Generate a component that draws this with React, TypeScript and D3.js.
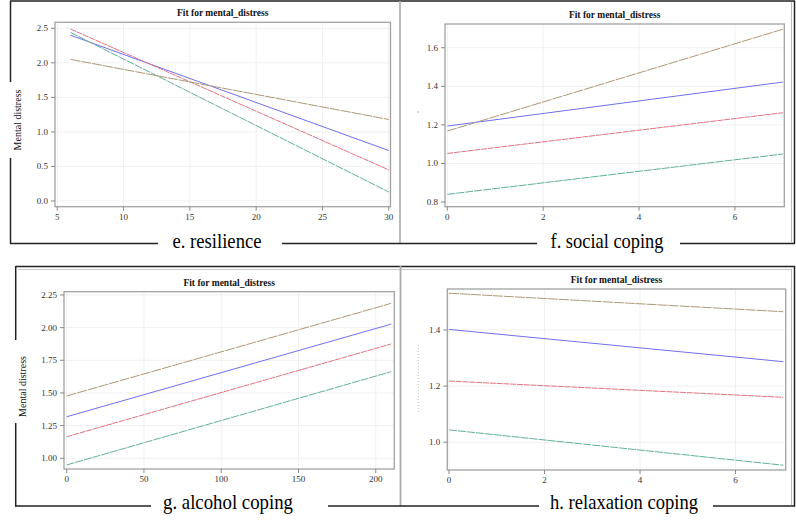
import * as d3 from 'd3';

// colours of the four fitted lines (same order in every panel)
const seriesColors = ['#7070f0', '#e07480', '#62b09e', '#ae9878'];
const seriesDash = ['', '6 0.8', '8 1', '10 1'];

// e. resilience
const resilienceX = [6, 30];
const resilienceFits = [[2.40, 0.73], [2.49, 0.45], [2.44, 0.13], [2.05, 1.18]];
const resilienceXTicks = [5, 10, 15, 20, 25, 30];
const resilienceYTicks = [0, 0.5, 1.0, 1.5, 2.0, 2.5];

// f. social coping
const socialX = [0, 7];
const socialFits = [[1.194, 1.422], [1.052, 1.263], [0.84, 1.049], [1.168, 1.696]];
const socialXTicks = [0, 2, 4, 6];
const socialYTicks = [0.8, 1.0, 1.2, 1.4, 1.6];

// g. alcohol coping
const alcoholX = [0, 210];
const alcoholFits = [[1.318, 2.027], [1.165, 1.875], [0.949, 1.663], [1.477, 2.186]];
const alcoholXTicks = [0, 50, 100, 150, 200];
const alcoholYTicks = [1.0, 1.25, 1.5, 1.75, 2.0, 2.25];

// h. relaxation coping
const relaxX = [0, 7];
const relaxFits = [[1.402, 1.287], [1.218, 1.16], [1.044, 0.918], [1.531, 1.465]];
const relaxXTicks = [0, 2, 4, 6];
const relaxYTicks = [1.0, 1.2, 1.4];

const serif = "'Liberation Serif', 'Times New Roman', Times, 'DejaVu Serif', serif";

interface PanelProps {
  frame: { x0: number; x1: number; y0: number; y1: number };
  xDomain: [number, number];
  yDomain: [number, number];
  xTicks: number[];
  yTicks: number[];
  yFmt: string;
  xs: number[];
  fits: number[][];
}

function Panel({ frame, xDomain, yDomain, xTicks, yTicks, yFmt, xs, fits }: PanelProps) {
  const x = d3.scaleLinear().domain(xDomain).range([frame.x0, frame.x1]);
  const y = d3.scaleLinear().domain(yDomain).range([frame.y1, frame.y0]);
  const fy = d3.format(yFmt);
  const fx = d3.format('d');
  const line = d3.line<[number, number]>().x(d => x(d[0])).y(d => y(d[1]));

  return (
    <g>
      <text x={(frame.x0 + frame.x1) / 2} y={frame.y0 - 6} textAnchor="middle"
        fontWeight="bold" fontSize={9.5} fill="#111">Fit for mental_distress</text>
      {/* grid */}
      {xTicks.map(t => (
        <line key={'gx' + t} x1={x(t)} x2={x(t)} y1={frame.y0} y2={frame.y1} stroke="#f0f0f0" />
      ))}
      {yTicks.map(t => (
        <line key={'gy' + t} x1={frame.x0} x2={frame.x1} y1={y(t)} y2={y(t)} stroke="#f0f0f0" />
      ))}
      {/* fitted lines */}
      {fits.map((vals, i) => (
        <path key={i} d={line(xs.map((v, j) => [v, vals[j]] as [number, number])) || ''}
          fill="none" stroke={seriesColors[i]} strokeWidth={1}
          strokeDasharray={seriesDash[i] || undefined} />
      ))}
      <rect x={frame.x0} y={frame.y0} width={frame.x1 - frame.x0} height={frame.y1 - frame.y0}
        fill="none" stroke="#a2a2a2" strokeWidth={1.3} />
      {/* ticks */}
      {xTicks.map(t => (
        <g key={'tx' + t}>
          <line x1={x(t)} x2={x(t)} y1={frame.y1} y2={frame.y1 + 4} stroke="#888" />
          <text x={x(t)} y={frame.y1 + 13} textAnchor="middle" fontSize={9} fill="#333">{fx(t)}</text>
        </g>
      ))}
      {yTicks.map(t => (
        <g key={'ty' + t}>
          <line x1={frame.x0 - 4} x2={frame.x0} y1={y(t)} y2={y(t)} stroke="#888" />
          <text x={frame.x0 - 7} y={y(t) + 3} textAnchor="end" fontSize={9} fill="#333">{fy(t)}</text>
        </g>
      ))}
    </g>
  );
}

function Caption({ cx, y, w, text }: { cx: number; y: number; w: number; text: string }) {
  return (
    <text x={cx} y={y} textAnchor="middle" fill="#000" textLength={w} lengthAdjust="spacingAndGlyphs"
      style={{ fontFamily: serif, fontSize: '21px' }}>{text}</text>
  );
}

function YLabel({ cx, cy }: { cx: number; cy: number }) {
  return (
    <text transform={`translate(${cx},${cy}) rotate(-90)`} textAnchor="middle" dy="0.35em"
      fontSize={10} fill="#111">Mental distress</text>
  );
}

export default function App() {
  const W = 796;
  const H = 526;
  const k = '#222';

  return (
    <svg width={W} height={H}
      style={{ position: 'absolute', left: 0, top: 0, background: '#fff', fontFamily: serif }}>
      <rect width={W} height={H} fill="#fff" />

      {/* top row frame */}
      <line x1={10} x2={795} y1={1} y2={1} stroke={k} strokeWidth={1.5} />
      <line x1={10.5} x2={10.5} y1={1} y2={82} stroke={k} strokeWidth={1.5} />
      <line x1={10.5} x2={10.5} y1={158} y2={243.5} stroke={k} strokeWidth={1.5} />
      <line x1={794.5} x2={794.5} y1={1} y2={243.5} stroke={k} strokeWidth={1.5} />
      <line x1={791.5} x2={791.5} y1={2} y2={242} stroke="#bbb" strokeWidth={1} />
      <line x1={400} x2={400} y1={1} y2={243} stroke="#aaa" strokeWidth={1.6} />
      <line x1={10} x2={158} y1={243.5} y2={243.5} stroke={k} strokeWidth={1.5} />
      <line x1={282} x2={537} y1={243.5} y2={243.5} stroke={k} strokeWidth={1.5} />
      <line x1={680} x2={795} y1={243.5} y2={243.5} stroke={k} strokeWidth={1.5} />

      {/* bottom row frame */}
      <line x1={15.5} x2={795} y1={266.5} y2={266.5} stroke={k} strokeWidth={1.5} />
      <line x1={18} x2={792} y1={269.5} y2={269.5} stroke="#c8c8c8" strokeWidth={1} />
      <line x1={15.7} x2={15.7} y1={266} y2={340} stroke={k} strokeWidth={1.5} />
      <line x1={15.7} x2={15.7} y1={423} y2={506.5} stroke={k} strokeWidth={1.5} />
      <line x1={794.5} x2={794.5} y1={266} y2={506.5} stroke={k} strokeWidth={1.5} />
      <line x1={791.5} x2={791.5} y1={269} y2={505} stroke="#bbb" strokeWidth={1} />
      <line x1={400.5} x2={400.5} y1={266} y2={506} stroke="#aaa" strokeWidth={1.8} />
      <line x1={15} x2={151} y1={506} y2={506} stroke={k} strokeWidth={1.5} />
      <line x1={328} x2={539} y1={506} y2={506} stroke={k} strokeWidth={1.5} />
      <line x1={713} x2={795} y1={506} y2={506} stroke={k} strokeWidth={1.5} />

      {/* faint hidden axis labels on right panels */}
      <line x1={418} x2={418} y1={111} y2={113} stroke="#bbb" />
      <line x1={418.3} x2={418.3} y1={345} y2={413} stroke="#c4c4c4" strokeDasharray="1 2" />

      <Panel frame={{ x0: 55, x1: 390.5, y0: 22.3, y1: 206.7 }} xDomain={[4.83, 30.13]} yDomain={[-0.083, 2.587]}
        xTicks={resilienceXTicks} yTicks={resilienceYTicks} yFmt=".1f" xs={resilienceX} fits={resilienceFits} />
      <Panel frame={{ x0: 445, x1: 784.3, y0: 24, y1: 206.7 }} xDomain={[-0.048, 7.03]} yDomain={[0.776, 1.723]}
        xTicks={socialXTicks} yTicks={socialYTicks} yFmt=".1f" xs={socialX} fits={socialFits} />
      <Panel frame={{ x0: 64, x1: 394.3, y0: 291.7, y1: 469 }} xDomain={[-1.75, 212]} yDomain={[0.918, 2.275]}
        xTicks={alcoholXTicks} yTicks={alcoholYTicks} yFmt=".2f" xs={alcoholX} fits={alcoholFits} />
      <Panel frame={{ x0: 447.3, x1: 785.7, y0: 289, y1: 470 }} xDomain={[-0.036, 7.05]} yDomain={[0.901, 1.546]}
        xTicks={relaxXTicks} yTicks={relaxYTicks} yFmt=".1f" xs={relaxX} fits={relaxFits} />

      <YLabel cx={17} cy={120} />
      <YLabel cx={22.7} cy={386.5} />

      <Caption cx={217} y={247.5} w={89} text="e. resilience" />
      <Caption cx={607} y={247.5} w={113} text="f. social coping" />
      <Caption cx={228} y={508.5} w={130} text="g. alcohol coping" />
      <Caption cx={624} y={508.5} w={148} text="h. relaxation coping" />
    </svg>
  );
}
